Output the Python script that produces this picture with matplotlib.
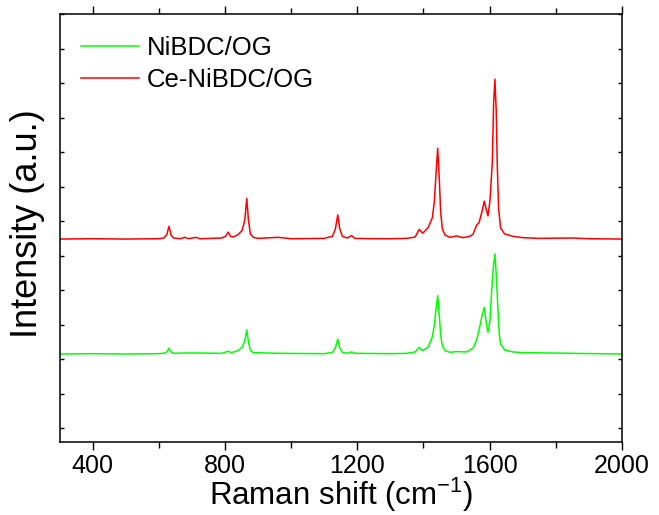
import matplotlib
matplotlib.use("Agg")
import matplotlib.pyplot as plt
from matplotlib.ticker import MultipleLocator

plt.rcParams['font.family'] = ['Liberation Sans', 'DejaVu Sans']
plt.rcParams['mathtext.fontset'] = 'custom'
plt.rcParams['mathtext.rm'] = 'Liberation Sans'

# Raman shift (cm^-1) and intensity above baseline for each sample
shift_ce = [300, 400, 500, 600, 615, 624, 631, 637, 645, 665, 679, 690, 712, 725,
            790, 802, 810, 817, 825, 840, 852, 860, 866, 871, 877, 886, 900, 961,
            1000, 1100, 1125, 1134, 1141, 1147, 1155, 1170, 1183, 1192, 1250, 1300,
            1350, 1375, 1387, 1398, 1414, 1427, 1433, 1438, 1443, 1448, 1452, 1457,
            1465, 1480, 1500, 1520, 1540, 1550, 1561, 1568, 1577, 1584, 1590, 1595,
            1601, 1608, 1612, 1616, 1620, 1623, 1627, 1633, 1645, 1670, 1700, 1750,
            1850, 1900, 2000]
int_ce = [0.00, 0.01, 0.00, 0.01, 0.03, 0.12, 0.37, 0.12, 0.03, 0.01, 0.05, 0.01, 0.05, 0.01,
          0.03, 0.08, 0.20, 0.08, 0.06, 0.13, 0.25, 0.55, 1.18, 0.55, 0.15, 0.05, 0.02, 0.05,
          0.01, 0.02, 0.08, 0.30, 0.70, 0.30, 0.08, 0.03, 0.10, 0.02, 0.01, 0.01,
          0.02, 0.06, 0.28, 0.17, 0.33, 0.62, 1.10, 1.90, 2.63, 1.70, 0.80, 0.30,
          0.12, 0.05, 0.09, 0.04, 0.08, 0.14, 0.41, 0.47, 0.80, 1.10, 0.85, 0.67,
          1.10, 2.20, 3.90, 4.63, 3.70, 2.20, 0.90, 0.33, 0.15, 0.08, 0.04, 0.02,
          0.03, 0.01, 0.00]

shift_ni = [300, 400, 500, 600, 620, 626, 631, 637, 645, 679, 712, 790, 810, 820,
            840, 852, 860, 866, 871, 877, 886, 961, 1100, 1125, 1134, 1141, 1147, 1155,
            1170, 1183, 1192, 1300, 1350, 1375, 1387, 1398, 1414, 1427, 1433, 1438,
            1443, 1448, 1452, 1457, 1465, 1480, 1500, 1530, 1550, 1561, 1568, 1577,
            1584, 1590, 1595, 1601, 1606, 1611, 1616, 1620, 1625, 1629, 1633, 1645,
            1670, 1700, 1850, 2000]
int_ni = [0.00, 0.01, 0.00, 0.01, 0.03, 0.08, 0.17, 0.06, 0.02, 0.03, 0.03, 0.02, 0.08, 0.04,
          0.10, 0.20, 0.38, 0.70, 0.35, 0.10, 0.04, 0.02, 0.01, 0.05, 0.18, 0.43, 0.18, 0.05,
          0.02, 0.06, 0.02, 0.01, 0.02, 0.06, 0.19, 0.10, 0.20, 0.50, 0.85, 1.30,
          1.69, 1.10, 0.55, 0.25, 0.10, 0.05, 0.07, 0.06, 0.17, 0.41, 0.70, 1.10,
          1.35, 0.90, 0.63, 0.95, 1.81, 2.50, 2.90, 2.30, 1.33, 0.60, 0.30, 0.12,
          0.06, 0.04, 0.02, 0.00]

# vertical stacking of the two spectra
offset_ni = 2.15
offset_ce = 5.48

labels = ["NiBDC/OG", "Ce-NiBDC/OG"]
x_ticks = [400, 800, 1200, 1600, 2000]

fig = plt.figure(figsize=(6.59, 5.15), dpi=100)
ax = fig.add_axes([0.0903, 0.1417, 0.8535, 0.8311])

ax.plot(shift_ni, [v + offset_ni for v in int_ni], color="#00ff00", lw=1.1, label=labels[0])
ax.plot(shift_ce, [v + offset_ce for v in int_ce], color="#ff0000", lw=1.1, label=labels[1])

ax.set_xlim(300, 2000)
ax.set_ylim(-0.4, 12.0)
ax.set_xticks(x_ticks)
ax.xaxis.set_minor_locator(MultipleLocator(200))
ax.yaxis.set_major_locator(MultipleLocator(1))

for s in ax.spines.values():
    s.set_linewidth(1.1)

ax.tick_params(axis="x", which="major", direction="out", length=6, width=1.0,
               labelsize=18, pad=2.5, top=True)
ax.tick_params(axis="x", which="minor", direction="out", length=4, width=1.0, top=True)
ax.tick_params(axis="y", which="major", direction="in", length=3, width=1.0,
               left=True, right=True, labelleft=False)

ax.set_xlabel("Raman shift (cm$^{\\mathregular{-1}}$)", fontsize=22.5, labelpad=-1.5)
ax.set_ylabel("Intensity (a.u.)", fontsize=26)
ax.yaxis.set_label_coords(-0.026, 0.51)

ax.legend(loc="upper left", bbox_to_anchor=(0.0, 1.0), frameon=False, fontsize=18.5,
          handlelength=2.25, handletextpad=0.3, labelspacing=0.32,
          borderaxespad=0.3, borderpad=0.55)

fig.savefig("out.png", dpi=100)
